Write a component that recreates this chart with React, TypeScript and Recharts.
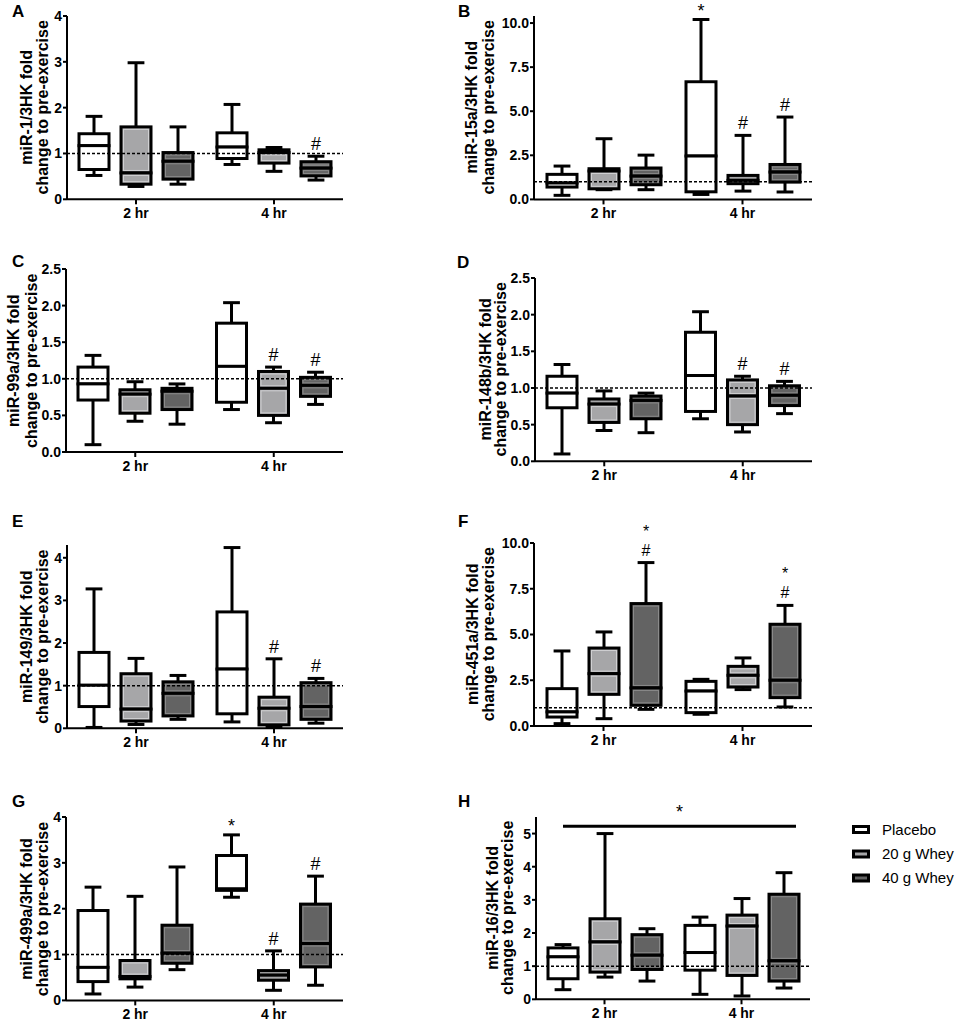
import React from "react";
import { BarChart, Bar, XAxis, YAxis, ReferenceLine } from "recharts";

const FONT = "'Liberation Sans', Arial, Helvetica, sans-serif";

const timepoints = ["2 hr", "4 hr"];
const groups = ["Placebo", "20 g Whey", "40 g Whey"];

// each box: [min, Q1, median, Q3, max]; rows = time points, cols = groups
const miR1 = [
  [[0.52, 0.65, 1.17, 1.43, 1.81], [0.28, 0.33, 0.575, 1.58, 2.98], [0.33, 0.44, 0.83, 1.02, 1.58]],
  [[0.76, 0.89, 1.14, 1.45, 2.07], [0.61, 0.79, 1.02, 1.08, 1.13], [0.42, 0.51, 0.68, 0.82, 0.94]],
];
const miR1Notes = [[[], [], []], [[], [], ["#"]]];

const miR15a = [
  [[0.23, 0.7, 0.93, 1.42, 1.89], [0.55, 0.6, 1.61, 1.74, 3.44], [0.55, 0.83, 1.32, 1.78, 2.51]],
  [[0.28, 0.43, 2.46, 6.67, 10.2], [0.47, 0.89, 1.08, 1.36, 3.63], [0.42, 0.98, 1.55, 1.98, 4.67]],
];
const miR15aNotes = [[[], [], []], [["*"], ["#"], ["#"]]];

const miR99a = [
  [[0.1, 0.71, 0.93, 1.16, 1.32], [0.42, 0.53, 0.79, 0.85, 0.96], [0.38, 0.58, 0.83, 0.87, 0.93]],
  [[0.58, 0.68, 1.17, 1.76, 2.04], [0.4, 0.5, 0.87, 1.1, 1.16], [0.65, 0.76, 0.91, 1.02, 1.09]],
];
const miR99aNotes = [[[], [], []], [[], ["#"], ["#"]]];

const miR148b = [
  [[0.1, 0.73, 0.93, 1.16, 1.32], [0.42, 0.53, 0.78, 0.85, 0.96], [0.39, 0.58, 0.83, 0.89, 0.93]],
  [[0.58, 0.68, 1.17, 1.76, 2.04], [0.4, 0.5, 0.89, 1.11, 1.16], [0.65, 0.76, 0.9, 1.03, 1.09]],
];
const miR148bNotes = [[[], [], []], [[], ["#"], ["#"]]];

const miR149 = [
  [[0.02, 0.51, 1.01, 1.78, 3.27], [0.09, 0.17, 0.45, 1.28, 1.64], [0.21, 0.29, 0.82, 1.09, 1.24]],
  [[0.15, 0.34, 1.39, 2.73, 4.24], [0.02, 0.08, 0.47, 0.73, 1.63], [0.12, 0.21, 0.51, 1.07, 1.17]],
];
const miR149Notes = [[[], [], []], [[], ["#"], ["#"]]];

const miR451a = [
  [[0.13, 0.49, 0.77, 2.04, 4.1], [0.4, 1.73, 2.86, 4.26, 5.14], [0.91, 1.13, 2.08, 6.69, 8.93]],
  [[0.64, 0.73, 1.91, 2.44, 2.55], [1.99, 2.13, 2.77, 3.26, 3.72], [1.04, 1.55, 2.5, 5.56, 6.59]],
];
const miR451aNotes = [[[], [], ["*", "#"]], [[], [], ["*", "#"]]];

const miR499a = [
  [[0.14, 0.41, 0.72, 1.96, 2.47], [0.29, 0.47, 0.52, 0.87, 2.27], [0.67, 0.81, 1.03, 1.64, 2.91]],
  [[2.25, 2.4, 2.43, 3.16, 3.61], [0.22, 0.44, 0.55, 0.65, 1.08], [0.33, 0.73, 1.24, 2.1, 2.71]],
];
const miR499aNotes = [[[], [], []], [["*"], ["#"], ["#"]]];

const miR16 = [
  [[0.29, 0.62, 1.28, 1.55, 1.65], [0.67, 0.82, 1.73, 2.43, 5.0], [0.55, 0.9, 1.33, 1.95, 2.13]],
  [[0.15, 0.88, 1.41, 2.23, 2.48], [0.1, 0.72, 2.21, 2.54, 3.04], [0.34, 0.55, 1.16, 3.17, 3.82]],
];
const miR16Notes = [[[], [], []], [[], [], []]];
const miR16Overall = 5.22;

const fills = ["#ffffff", "#a6a6a8", "#636363"];
const highlights = ["#ffffff", "#d0d0d2", "#8a8a8a"];

const BAR = 30;
const BAR_GAP = 12;
const YW = 66;
const MT = 30;
const XH = 32;
const MR = 6;

const panels = [
  { letter: "A", lx: 12, ly: 17, label: "miR-1/3HK fold", data: miR1, notes: miR1Notes,
    plot: { l: 67, r: 343, t: 15.7, b: 199 }, domain: [0, 4], ticks: [0, 1, 2, 3, 4], digits: 0, off: [-35, -19] },
  { letter: "B", lx: 458, ly: 17, label: "miR-15a/3HK fold", data: miR15a, notes: miR15aNotes,
    plot: { l: 534, r: 812, t: 15.6, b: 199 }, domain: [0, 10.4], ticks: [0, 2.5, 5, 7.5, 10], digits: 1, off: [-57, -40] },
  { letter: "C", lx: 12, ly: 267, label: "miR-99a/3HK fold", data: miR99a, notes: miR99aNotes,
    plot: { l: 66, r: 343, t: 269.3, b: 452.3 }, domain: [0, 2.5], ticks: [0, 0.5, 1, 1.5, 2, 2.5], digits: 1, off: [-47, -29] },
  { letter: "D", lx: 457, ly: 268, label: "miR-148b/3HK fold", data: miR148b, notes: miR148bNotes,
    plot: { l: 535, r: 812, t: 277.7, b: 461 }, domain: [0, 2.5], ticks: [0, 0.5, 1, 1.5, 2, 2.5], digits: 1, off: [-44, -29] },
  { letter: "E", lx: 12, ly: 527, label: "miR-149/3HK fold", data: miR149, notes: miR149Notes,
    plot: { l: 67, r: 343, t: 545, b: 728.3 }, domain: [0, 4.3], ticks: [0, 1, 2, 3, 4], digits: 0, off: [-35, -19] },
  { letter: "F", lx: 458, ly: 527, label: "miR-451a/3HK fold", data: miR451a, notes: miR451aNotes,
    plot: { l: 534, r: 812, t: 542.7, b: 725.7 }, domain: [0, 10], ticks: [0, 2.5, 5, 7.5, 10], digits: 1, off: [-56, -40] },
  { letter: "G", lx: 12, ly: 807, label: "miR-499a/3HK fold", data: miR499a, notes: miR499aNotes,
    plot: { l: 66, r: 343, t: 817.3, b: 1000.7 }, domain: [0, 4], ticks: [0, 1, 2, 3, 4], digits: 0, off: [-34, -18] },
  { letter: "H", lx: 458, ly: 807, label: "miR-16/3HK fold", data: miR16, notes: miR16Notes, sig: miR16Overall,
    plot: { l: 536, r: 810, t: 816.7, b: 999 }, domain: [0, 5.5], ticks: [0, 1, 2, 3, 4, 5], digits: 0, off: [-38, -23] },
];

function renderBox(p: any, gi: number, cfg: any) {
  const d = p.payload;
  const [mn, q1, md, q3, mx] = d.boxes[gi];
  const y0 = Math.min(p.y, p.y + p.height);
  const y1 = Math.max(p.y, p.y + p.height);
  const py = (v: number) => (mx === mn ? y0 : y0 + ((y1 - y0) * (mx - v)) / (mx - mn));
  const w = p.width;
  const cx = p.x + w / 2;
  const capHalf = w * 0.28;
  const yMax = py(mx), yQ3 = py(q3), yMd = py(md), yQ1 = py(q1), yMin = py(mn);
  const notes: string[] = d.notes[gi] || [];
  const ink = { stroke: "#000", strokeWidth: 3 };

  const halves = [
    [yQ3, yMd],
    [yMd, yQ1],
  ];

  let sig = null;
  if (cfg.sig && gi === 0 && d.time === timepoints[0]) {
    const band = (cfg.plot.r - cfg.plot.l) / timepoints.length;
    const xEnd = cx + band + (groups.length - 1) * (w + BAR_GAP) + 12;
    const ys = py(cfg.sig);
    sig = (
      <g>
        <line x1={cx} x2={xEnd} y1={ys} y2={ys} {...ink} />
        <text x={(cx + xEnd) / 2} y={ys - 8} textAnchor="middle" fontSize={18} fontFamily={FONT}>*</text>
      </g>
    );
  }

  // annotations stacked upward from the top whisker cap
  const stacked = notes.length > 1;
  return (
    <g>
      <line x1={cx} x2={cx} y1={yMax} y2={yQ3} {...ink} />
      <line x1={cx} x2={cx} y1={yQ1} y2={yMin} {...ink} />
      <line x1={cx - capHalf} x2={cx + capHalf} y1={yMax} y2={yMax} {...ink} />
      <line x1={cx - capHalf} x2={cx + capHalf} y1={yMin} y2={yMin} {...ink} />
      {halves.map(([a, b], k) => (
        <g key={k}>
          <rect x={p.x} y={a} width={w} height={Math.max(b - a, 0)} fill={fills[gi]} {...ink} />
          {b - a > 6 && (
            <rect x={p.x + 2.5} y={a + 2.5} width={w - 5} height={b - a - 5} fill="none" stroke={highlights[gi]} strokeWidth={1} />
          )}
        </g>
      ))}
      {notes.map((t, k) => {
        const fromBottom = notes.length - 1 - k;
        const yy = stacked
          ? yMax - 7 - 19 * fromBottom
          : yMax - 6 + (t === "*" ? 3 : 0);
        return (
          <text key={k} x={cx} y={yy} textAnchor="middle" fontSize={stacked ? 16 : 18} fontFamily={FONT} fill="#000">
            {t}
          </text>
        );
      })}
      {sig}
    </g>
  );
}

function Panel({ cfg }: { cfg: any }) {
  const { plot } = cfg;
  const width = plot.r - plot.l + YW + MR;
  const height = plot.b - plot.t + MT + XH;
  const data = timepoints.map((time, i) => ({ time, boxes: cfg.data[i], notes: cfg.notes[i] }));
  const tickFont = { fill: "#000", fontSize: 14, fontWeight: 700, fontFamily: FONT };
  return (
    <div style={{ position: "absolute", left: plot.l - YW, top: plot.t - MT }}>
      <BarChart
        width={width}
        height={height}
        data={data}
        margin={{ top: MT, right: MR, bottom: 0, left: 0 }}
        barSize={BAR}
        barGap={BAR_GAP}
      >
        <XAxis
          dataKey="time"
          height={XH}
          axisLine={{ stroke: "#000", strokeWidth: 2 }}
          tickLine={{ stroke: "#000", strokeWidth: 2 }}
          tickSize={5}
          tickMargin={4}
          tick={tickFont}
        />
        <YAxis
          width={YW}
          type="number"
          domain={cfg.domain}
          ticks={cfg.ticks}
          interval={0}
          tickFormatter={(v: number) => v.toFixed(cfg.digits)}
          axisLine={{ stroke: "#000", strokeWidth: 2 }}
          tickLine={{ stroke: "#000", strokeWidth: 2 }}
          tickSize={4}
          tickMargin={1}
          tick={tickFont}
        />
        {groups.map((g, gi) => (
          <Bar
            key={g}
            name={g}
            dataKey={(d: any) => [d.boxes[gi][0], d.boxes[gi][4]]}
            isAnimationActive={false}
            shape={(p: any) => renderBox(p, gi, cfg)}
          />
        ))}
        <ReferenceLine y={1} stroke="#000" strokeWidth={1.5} strokeDasharray="3 2" ifOverflow="visible" />
      </BarChart>
    </div>
  );
}

const legendY = [829.5, 854, 878];

export default function App() {
  return (
    <div
      style={{
        position: "absolute",
        left: 0,
        top: 0,
        width: 959,
        height: 1024,
        overflow: "hidden",
        background: "#fff",
        fontFamily: FONT,
      }}
    >
      {panels.map((cfg) => (
        <Panel key={cfg.letter} cfg={cfg} />
      ))}
      <svg
        width={959}
        height={1024}
        style={{ position: "absolute", left: 0, top: 0, pointerEvents: "none" }}
        fontFamily={FONT}
      >
        {panels.map((cfg) => {
          const yc = (cfg.plot.t + cfg.plot.b) / 2;
          const lines = [cfg.label, "change to pre-exercise"];
          return (
            <g key={cfg.letter}>
              <text x={cfg.lx} y={cfg.ly} fontSize={17} fontWeight={700}>
                {cfg.letter}
              </text>
              {lines.map((t, k) => {
                const x = cfg.plot.l + cfg.off[k];
                return (
                  <text
                    key={k}
                    x={x}
                    y={yc}
                    transform={`rotate(-90, ${x}, ${yc})`}
                    textAnchor="middle"
                    fontSize={16}
                    fontWeight={700}
                  >
                    {t}
                  </text>
                );
              })}
            </g>
          );
        })}
        {groups.map((g, i) => (
          <g key={g}>
            <rect x={853.5} y={legendY[i] - 3} width={15} height={6} fill={fills[i]} stroke="#000" strokeWidth={3} />
            <text x={882} y={legendY[i] + 5} fontSize={15}>
              {g}
            </text>
          </g>
        ))}
      </svg>
    </div>
  );
}
